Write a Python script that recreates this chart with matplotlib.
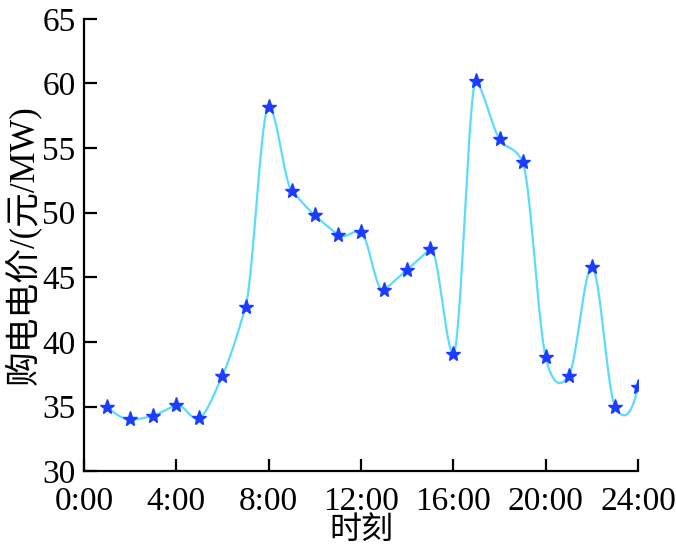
import numpy as np
import matplotlib
matplotlib.use('Agg')
import matplotlib.pyplot as plt

plt.rcParams['font.family'] = ['Liberation Serif', 'Noto Sans CJK SC']

hours = np.arange(1, 25)
price = [35.0, 34.0, 34.3, 35.1, 34.1, 37.4, 42.7, 58.2, 51.7, 49.8, 48.3, 48.5,
         44.0, 45.6, 47.2, 39.1, 60.2, 55.7, 53.9, 38.8, 37.4, 45.8, 35.0, 36.5]
xticks = [0, 4, 8, 12, 16, 20, 24]
xticklabels = ['0:00', '4:00', '8:00', '12:00', '16:00', '20:00', '24:00']
yticks = [30, 35, 40, 45, 50, 55, 60, 65]


def akima(x, y, xs):
    # akima interpolation for the smooth curve through the stars
    x = np.asarray(x, float)
    y = np.asarray(y, float)
    n = len(x)
    h = np.diff(x)
    m = np.diff(y) / h
    mm = np.empty(n + 3)
    mm[2:-2] = m
    mm[1] = 2 * mm[2] - mm[3]
    mm[0] = 2 * mm[1] - mm[2]
    mm[-2] = 2 * mm[-3] - mm[-4]
    mm[-1] = 2 * mm[-2] - mm[-3]
    w1 = np.abs(mm[3:] - mm[2:-1])
    w2 = np.abs(mm[1:-2] - mm[:-3])
    den = w1 + w2
    t = np.where(den > 1e-12,
                 (w1 * mm[1:-2] + w2 * mm[2:-1]) / np.where(den > 1e-12, den, 1),
                 0.5 * (mm[1:-2] + mm[2:-1]))
    k = np.clip(np.searchsorted(x, xs) - 1, 0, n - 2)
    u = (xs - x[k]) / h[k]
    h00 = 2 * u ** 3 - 3 * u ** 2 + 1
    h10 = u ** 3 - 2 * u ** 2 + u
    h01 = -2 * u ** 3 + 3 * u ** 2
    h11 = u ** 3 - u ** 2
    return h00 * y[k] + h10 * h[k] * t[k] + h01 * y[k + 1] + h11 * h[k] * t[k + 1]


xs = np.linspace(hours[0], hours[-1], 800)
ys = akima(hours, price, xs)

fig = plt.figure(figsize=(6.76, 5.53), dpi=100)
ax = fig.add_axes([0.124, 0.148, 0.82, 0.818])
ax.plot(xs, ys, color='#5ADCFA', lw=1.6, zorder=2)
ax.plot(hours, price, ls='none', marker='*', ms=11, color='#1C3CFF', zorder=3)

ax.set_xlim(0, 24)
ax.set_ylim(30, 65)
ax.set_xticks(xticks)
ax.set_xticklabels(xticklabels)
ax.set_yticks(yticks)
ax.tick_params(direction='in', length=9, width=1.6, labelsize=24)
ax.tick_params(axis='x', pad=11)
ax.tick_params(axis='y', pad=6)
for s in ['top', 'right']:
    ax.spines[s].set_visible(False)
for s in ['left', 'bottom']:
    ax.spines[s].set_linewidth(1.6)

ax.set_xlabel('时刻', fontsize=23, labelpad=0)
ax.set_ylabel('购电电价/(元/MW)', fontsize=25, labelpad=1)

fig.savefig('out.png', dpi=100)
